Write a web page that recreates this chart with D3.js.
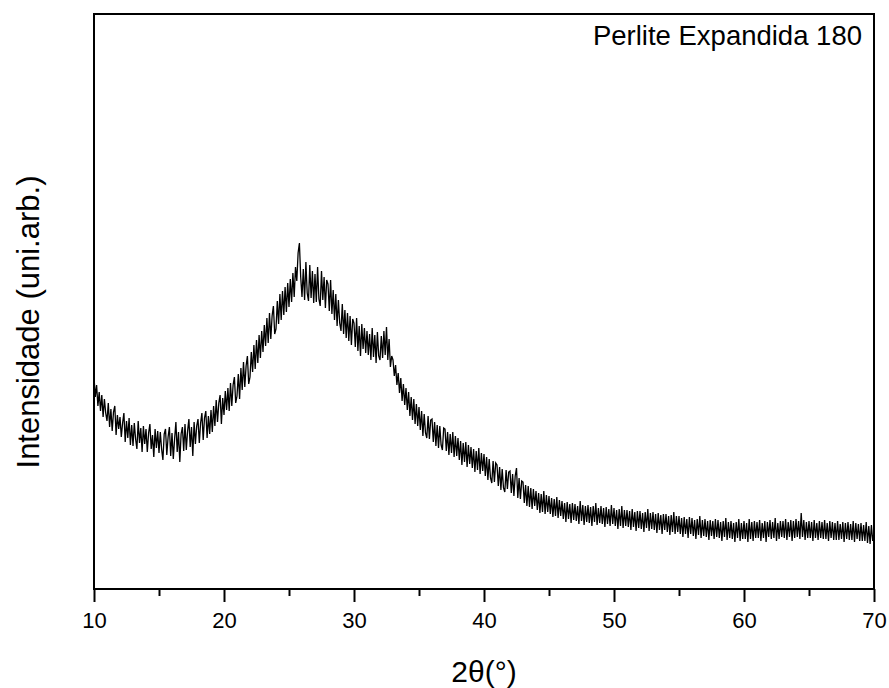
<!DOCTYPE html>
<html>
<head>
<meta charset="utf-8">
<script src="https://cdn.jsdelivr.net/npm/d3@7"></script>
<style>
  html, body { margin: 0; padding: 0; background: #fff; }
  svg { display: block; }
  text { font-family: "Liberation Sans", Arial, sans-serif; fill: #000; }
</style>
</head>
<body>
<svg id="chart" width="889" height="688"></svg>
<script>
// ---- data ----
const xStart = 10;          // 2θ of first sample (degrees)
const xStep = 0.1;          // sample spacing (degrees)
const intensity = [
  212,192,204,183,197,178,194,172,190,176,
  168,186,162,180,158,177,183,154,174,160,
  172,152,166,176,147,168,151,171,144,164,
  143,166,150,140,168,146,161,137,163,145,
  160,137,156,165,140,154,132,160,141,158,
  136,157,140,129,155,160,134,152,162,133,
  156,130,150,167,137,157,127,155,162,138,
  165,139,158,170,142,162,133,167,145,163,
  170,146,166,176,149,171,178,151,173,155,
  179,157,183,163,189,167,186,194,165,191,
  174,198,179,201,178,206,183,204,212,186,
  193,215,190,221,199,227,202,223,233,205,
  212,237,217,244,220,249,226,254,231,258,
  237,264,243,271,246,276,250,273,283,255,
  260,288,265,295,269,298,274,302,277,306,
  282,310,287,316,292,322,308,336,346,312,
  292,320,289,327,296,288,324,291,318,286,
  315,287,322,290,283,318,289,312,281,309,
  305,278,309,275,299,269,295,263,289,266,
  258,285,255,279,251,276,248,273,244,270,
  266,242,271,238,263,233,265,240,261,236,
  258,234,255,229,261,232,254,226,257,233,
  229,253,231,258,234,262,229,250,222,233,
  229,213,224,204,216,196,211,188,205,184,
  201,179,197,173,192,169,190,165,185,163,
  182,159,178,153,175,156,151,173,150,169,
  170,147,167,143,164,141,163,144,139,161,
  160,138,157,134,155,136,157,132,153,133,
  151,129,148,124,146,127,147,122,144,125,
  142,121,140,117,138,119,141,115,136,118,
  135,113,132,109,130,111,106,128,107,126,
  124,103,122,99,120,101,97,119,100,117,
  118,96,115,93,113,121,91,111,90,108,
  107,86,104,83,103,82,101,80,100,83,
  98,79,96,76,95,77,98,75,94,77,
  93,75,91,72,90,73,92,71,89,73,
  88,70,86,67,87,70,85,66,86,69,
  85,68,83,65,88,68,84,64,83,67,
  84,66,82,63,83,67,86,64,81,66,
  83,65,81,62,82,65,80,63,84,65,
  81,63,79,60,80,63,83,61,79,63,
  79,62,78,59,80,62,77,58,78,61,
  78,60,76,57,77,61,80,58,76,60,
  77,59,75,56,76,59,74,55,75,59,
  75,57,73,54,74,57,77,55,73,57,
  73,55,71,52,72,55,70,51,72,55,
  71,53,69,50,70,54,73,51,69,53,
  70,52,68,49,69,53,68,50,70,52,
  69,51,67,48,68,52,71,49,67,51,
  68,50,66,47,67,51,70,48,66,50,
  68,50,66,47,70,50,67,48,68,51,
  67,51,69,48,66,51,68,47,67,52,
  69,50,67,51,71,48,66,50,68,52,
  68,51,70,49,67,52,69,48,68,51,
  70,52,68,50,76,52,69,49,67,51,
  68,51,67,48,69,51,66,49,68,51,
  67,50,69,50,66,48,68,51,67,49,
  66,49,68,49,65,50,67,47,66,50,
  67,49,65,49,68,47,66,50,65,48,
  66,48,64,48,67,46,63,45,64,48,
  57
];
const majorTicks = [10, 20, 30, 40, 50, 60, 70];
const minorTicks = [15, 25, 35, 45, 55, 65];
const xDomain = [10, 70];
const yDomain = [0, 575];
const xTitle = "2θ(°)";
const yTitle = "Intensidade (uni.arb.)";
const sampleLabel = "Perlite Expandida 180";

// ---- layout ----
const margin = { left: 94, right: 15, top: 14, bottom: 99 };
const W = 889, H = 688;
const svg = d3.select("#chart");
const x = d3.scaleLinear().domain(xDomain).range([margin.left, W - margin.right]);
const y = d3.scaleLinear().domain(yDomain).range([H - margin.bottom, margin.top]);

const data = intensity.map((v, i) => ({ t: xStart + i * xStep, v }));

// data trace
svg.append("path")
  .datum(data)
  .attr("fill", "none")
  .attr("stroke", "#000")
  .attr("stroke-width", 1.3)
  .attr("stroke-linejoin", "miter")
  .attr("d", d3.line().x(d => x(d.t)).y(d => y(d.v)));

// bottom axis: major ticks with labels
const axisY = H - margin.bottom;
const gMajor = svg.append("g")
  .attr("transform", `translate(0,${axisY})`)
  .call(d3.axisBottom(x).tickValues(majorTicks).tickFormat(d3.format("d"))
    .tickSize(13).tickSizeOuter(0).tickPadding(10));
gMajor.select(".domain").remove();
gMajor.selectAll(".tick line").attr("stroke", "#000").attr("stroke-width", 2);
gMajor.selectAll(".tick text")
  .attr("font-size", 22)
  .attr("font-family", "'Liberation Sans', Arial, sans-serif")
  .attr("fill", "#000");

// minor ticks
const gMinor = svg.append("g")
  .attr("transform", `translate(0,${axisY})`)
  .call(d3.axisBottom(x).tickValues(minorTicks).tickFormat("").tickSize(7).tickSizeOuter(0));
gMinor.select(".domain").remove();
gMinor.selectAll(".tick line").attr("stroke", "#000").attr("stroke-width", 2);

// frame
svg.append("rect")
  .attr("x", x(xDomain[0]))
  .attr("y", y(yDomain[1]))
  .attr("width", x(xDomain[1]) - x(xDomain[0]))
  .attr("height", y(yDomain[0]) - y(yDomain[1]))
  .attr("fill", "none")
  .attr("stroke", "#000")
  .attr("stroke-width", 2);

// axis titles
svg.append("text")
  .attr("x", (x(xDomain[0]) + x(xDomain[1])) / 2)
  .attr("y", 682)
  .attr("text-anchor", "middle")
  .attr("font-size", 30)
  .text(xTitle);

svg.append("text")
  .attr("transform", `translate(39,322) rotate(-90)`)
  .attr("text-anchor", "middle")
  .attr("font-size", 31)
  .text(yTitle);

// sample annotation
svg.append("text")
  .attr("x", 862)
  .attr("y", 45)
  .attr("text-anchor", "end")
  .attr("font-size", 27.5)
  .text(sampleLabel);
</script>
</body>
</html>
